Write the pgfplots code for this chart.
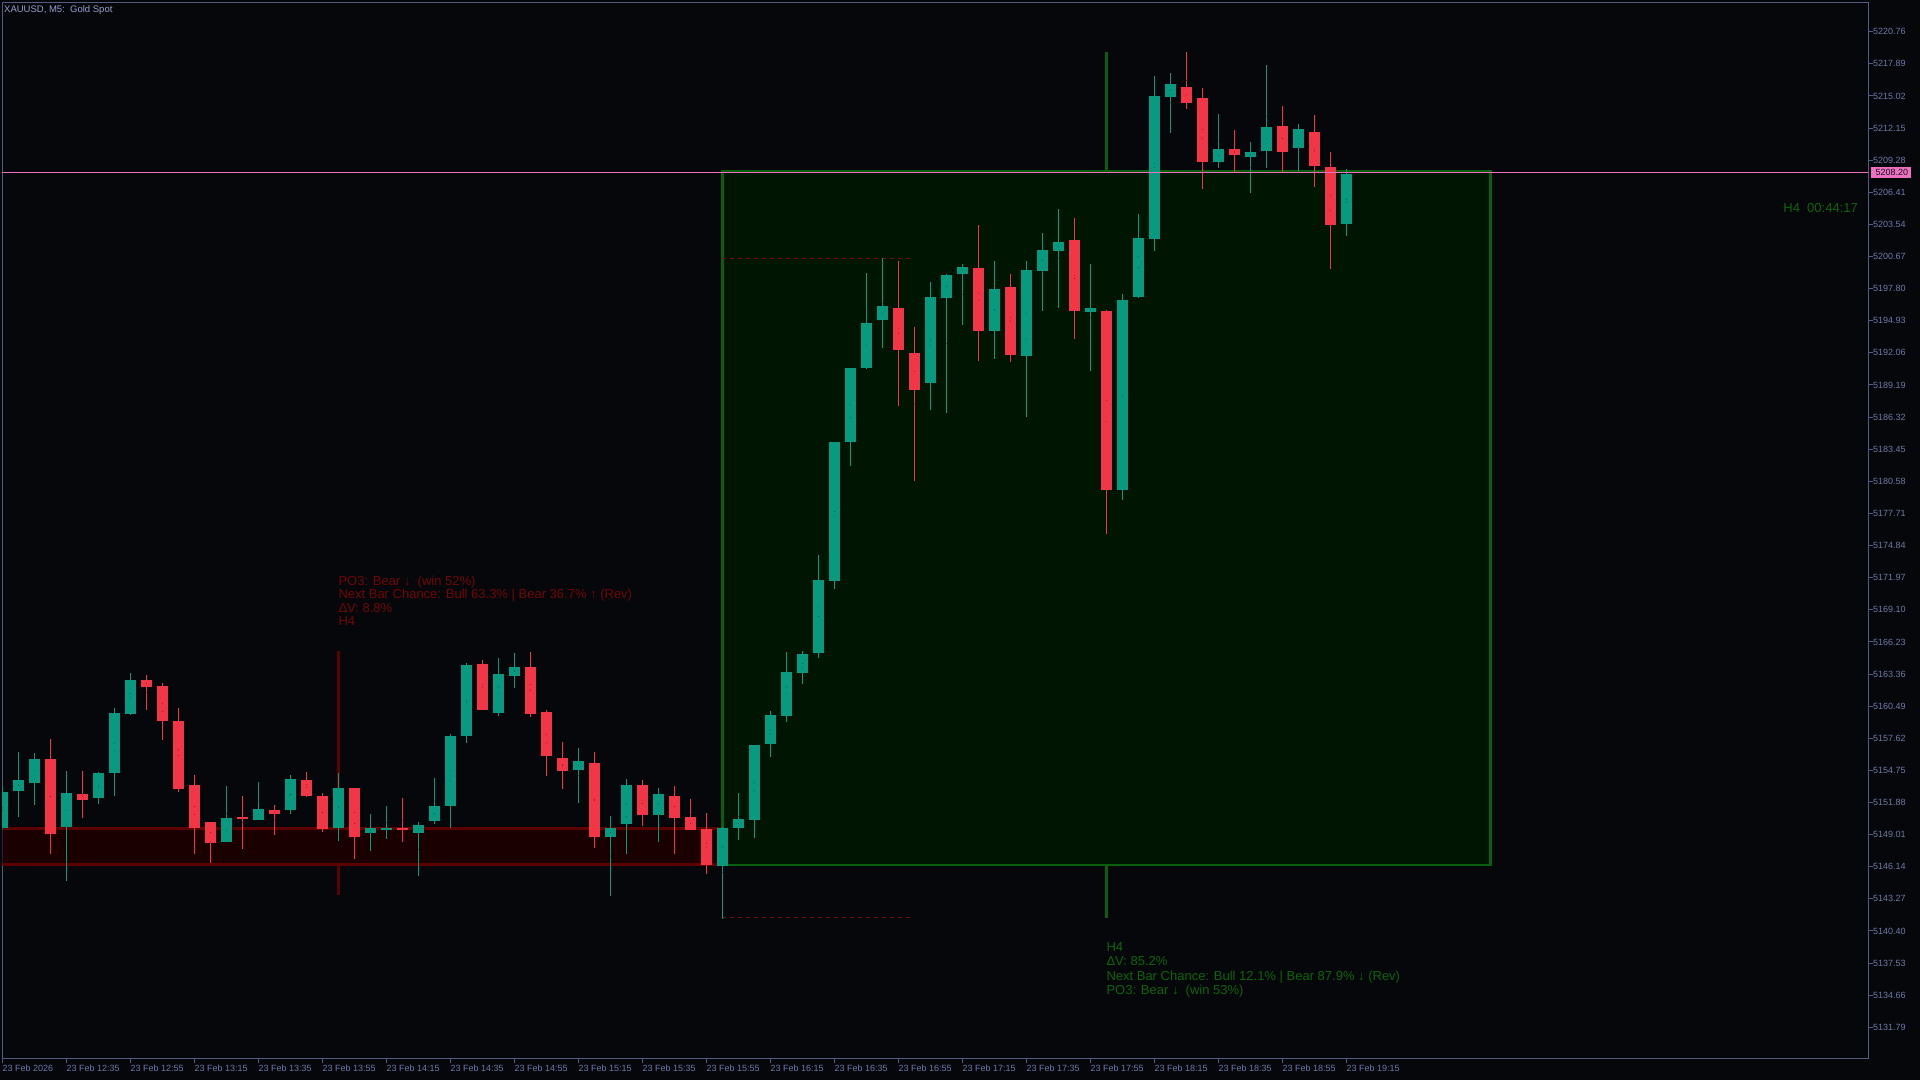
\documentclass[border=0pt]{standalone}
\usepackage{pgfplots}
\pgfplotsset{compat=1.18}
\usepackage{pgfplotstable}
\usepackage{fontspec}
\setmainfont{Liberation Sans}

\definecolor{bgc}{RGB}{6,7,11}
\definecolor{framec}{RGB}{80,92,130}
\definecolor{tickc}{RGB}{110,122,168}
\definecolor{titlec}{RGB}{150,160,205}
\definecolor{bull}{RGB}{8,153,129}
\definecolor{bear}{RGB}{242,54,69}
\definecolor{gboxfill}{RGB}{0,22,3}
\definecolor{gboxdraw}{RGB}{10,95,10}
\definecolor{rboxfill}{RGB}{26,0,0}
\definecolor{rboxdraw}{RGB}{92,0,0}
\definecolor{redtxt}{RGB}{112,6,6}
\definecolor{greentxt}{RGB}{12,100,12}
\definecolor{pinkc}{RGB}{238,112,190}
\definecolor{dashc}{RGB}{110,16,16}

\pgfplotstableread{
i o h l c
0 5149.73 5153.30 5149.43 5152.91
1 5152.85 5156.49 5150.62 5153.89
2 5153.74 5156.31 5151.70 5155.95
4 5149.73 5154.88 5145.08 5152.74
6 5152.32 5154.70 5151.87 5154.53
7 5154.56 5160.33 5152.50 5159.89
8 5159.83 5163.46 5159.74 5162.83
14 5148.47 5153.36 5148.47 5150.59
16 5150.35 5153.71 5150.26 5151.30
18 5151.24 5154.44 5150.97 5153.99
21 5149.55 5154.61 5148.56 5153.18
23 5149.19 5151.03 5147.67 5149.61
24 5149.52 5151.67 5148.65 5149.70
26 5149.28 5150.23 5145.44 5150.06
27 5150.35 5154.08 5150.00 5151.76
28 5151.70 5158.10 5149.64 5158.01
29 5157.86 5164.53 5157.41 5164.27
31 5160.00 5164.89 5159.65 5163.46
32 5163.31 5165.42 5162.33 5164.09
36 5154.91 5156.76 5151.79 5155.68
38 5148.95 5150.78 5143.65 5149.80
39 5149.93 5154.09 5147.41 5153.45
41 5150.82 5153.20 5148.38 5152.76
45 5146.24 5149.80 5141.55 5149.68
46 5149.64 5152.76 5148.59 5150.41
47 5150.37 5157.13 5148.83 5157.05
48 5157.09 5160.16 5155.99 5159.72
49 5159.68 5165.42 5159.10 5163.64
50 5163.60 5165.46 5162.51 5165.35
51 5165.30 5174.00 5164.85 5171.77
52 5171.73 5184.12 5171.09 5184.12
53 5184.16 5190.79 5182.09 5190.79
54 5190.75 5199.13 5190.59 5194.76
55 5194.97 5200.54 5192.53 5196.26
58 5189.31 5198.49 5187.07 5197.06
59 5197.09 5199.20 5186.72 5199.11
60 5199.14 5200.01 5194.59 5199.74
62 5194.13 5200.45 5191.63 5197.86
64 5191.90 5200.37 5186.35 5199.56
65 5199.51 5202.86 5195.84 5201.34
66 5201.28 5205.01 5196.19 5202.07
68 5195.84 5200.01 5190.48 5196.25
70 5179.84 5197.42 5179.03 5196.87
71 5197.09 5204.39 5196.91 5202.42
72 5202.36 5216.90 5201.28 5215.11
73 5214.96 5217.17 5211.84 5216.09
76 5209.16 5213.59 5208.70 5210.37
78 5209.69 5210.91 5206.38 5210.11
79 5210.14 5217.88 5208.70 5212.25
81 5210.40 5212.61 5208.35 5212.08
84 5203.70 5208.58 5202.54 5208.20
}\bullt

\pgfplotstableread{
i o h l c
3 5155.77 5157.65 5147.32 5149.11
5 5152.74 5154.79 5150.62 5152.23
9 5162.92 5163.37 5160.27 5162.24
10 5162.30 5162.65 5157.59 5159.20
11 5159.26 5160.33 5152.85 5153.21
12 5153.45 5154.44 5147.32 5149.64
13 5150.32 5150.32 5146.59 5148.38
15 5150.68 5152.65 5147.85 5150.44
17 5151.30 5151.76 5149.11 5150.97
19 5153.89 5154.61 5152.41 5152.50
20 5152.56 5152.91 5149.46 5149.64
22 5153.27 5153.27 5146.96 5148.92
25 5149.70 5152.29 5148.38 5149.52
30 5164.36 5164.53 5160.18 5160.18
33 5164.00 5165.25 5159.47 5159.83
34 5159.89 5160.24 5154.38 5155.98
35 5156.04 5157.29 5153.12 5154.91
37 5155.58 5156.47 5147.86 5148.95
40 5153.45 5153.97 5149.84 5150.82
42 5152.64 5153.36 5147.34 5150.65
43 5150.69 5152.31 5149.48 5149.56
44 5149.52 5151.05 5145.56 5146.37
56 5196.25 5200.37 5187.44 5192.44
57 5192.15 5194.47 5180.64 5188.77
61 5199.74 5203.67 5191.45 5194.13
63 5197.95 5199.20 5191.37 5191.81
67 5202.16 5204.21 5193.33 5195.84
69 5195.98 5195.98 5175.91 5179.93
74 5216.00 5218.96 5213.80 5214.52
75 5214.84 5215.73 5206.66 5209.16
77 5210.29 5212.16 5208.32 5209.69
80 5212.34 5214.13 5208.26 5210.05
82 5211.81 5213.50 5207.01 5208.79
83 5208.85 5210.02 5199.59 5203.70
}\beart

\begin{document}
\begin{tikzpicture}
\useasboundingbox (0pt,0pt) rectangle (1920pt,1080pt);
\fill[bgc] (0pt,0pt) rectangle (1920pt,1080pt);
\begin{axis}[
  at={(2.3pt,21.7pt)}, anchor=south west,
  scale only axis, width=1865.7pt, height=1055.55pt,
  xmin=0, xmax=116.6, ymin=5129.02, ymax=5223.36,
  axis line style={draw=framec, line width=1pt},
  tick style={draw=framec, line width=1pt},
  tick align=outside, major tick length=5pt,
  xtick pos=left, ytick pos=right,
  xtick={0,4,...,84},
  xticklabels={23 Feb 2026, 23 Feb 12:35, 23 Feb 12:55, 23 Feb 13:15, 23 Feb 13:35, 23 Feb 13:55, 23 Feb 14:15, 23 Feb 14:35, 23 Feb 14:55, 23 Feb 15:15, 23 Feb 15:35, 23 Feb 15:55, 23 Feb 16:15, 23 Feb 16:35, 23 Feb 16:55, 23 Feb 17:15, 23 Feb 17:35, 23 Feb 17:55, 23 Feb 18:15, 23 Feb 18:35, 23 Feb 18:55, 23 Feb 19:15},
  ytick={5131.79,5134.66,5137.53,5140.40,5143.27,5146.14,5149.01,5151.88,5154.75,5157.62,5160.49,5163.36,5166.23,5169.10,5171.97,5174.84,5177.71,5180.58,5183.45,5186.32,5189.19,5192.06,5194.93,5197.80,5200.67,5203.54,5206.41,5209.28,5212.15,5215.02,5217.89,5220.76},
  yticklabels={5131.79,5134.66,5137.53,5140.40,5143.27,5146.14,5149.01,5151.88,5154.75,5157.62,5160.49,5163.36,5166.23,5169.10,5171.97,5174.84,5177.71,5180.58,5183.45,5186.32,5189.19,5192.06,5194.93,5197.80,5200.67,5203.54,5206.41,5209.28,5212.15,5215.02,5217.89,5220.76},
  xticklabel style={anchor=north west, inner sep=0pt, yshift=-1pt, font=\fontsize{9}{9}\selectfont, text=tickc},
  yticklabel style={anchor=west, inner sep=0pt, font=\fontsize{9}{9}\selectfont, text=tickc},
  candle/.style={only marks, mark=*, mark size=0.01pt, mark options={draw=none, fill=none},
    error bars/y dir=both, error bars/y explicit, error bars/error mark=none},
]
% red zone box
\addplot[fill=rboxfill, draw=rboxdraw, line width=2.6pt] coordinates {(-2,5149.58) (45,5149.58) (45,5146.34) (-2,5146.34)} --cycle;
% green zone box
\addplot[fill=gboxfill, draw=gboxdraw, line width=2.6pt] coordinates {(45,5208.30) (93,5208.30) (93,5146.28) (45,5146.28)} --cycle;
% marker lines
\addplot[rboxdraw, line width=3pt] coordinates {(21,5165.46) (21,5149.58)};
\addplot[rboxdraw, line width=3pt] coordinates {(21,5146.34) (21,5143.62)};
\addplot[gboxdraw, line width=3pt] coordinates {(69,5218.96) (69,5208.30)};
\addplot[gboxdraw, line width=3pt] coordinates {(69,5146.28) (69,5141.56)};
% dashed high/low lines
\addplot[dashc, line width=1pt, dash pattern=on 4pt off 4pt] coordinates {(45,5200.51) (56.9,5200.51)};
\addplot[dashc, line width=1pt, dash pattern=on 4pt off 4pt] coordinates {(45,5141.56) (56.9,5141.56)};
% wicks
\addplot[candle, error bars/error bar style={line width=1.3pt, draw=bull}]
  table[x=i, y expr={(\thisrow{h}+\thisrow{l})/2}, y error expr={(\thisrow{h}-\thisrow{l})/2}] {\bullt};
\addplot[candle, error bars/error bar style={line width=1.3pt, draw=bear}]
  table[x=i, y expr={(\thisrow{h}+\thisrow{l})/2}, y error expr={(\thisrow{h}-\thisrow{l})/2}] {\beart};
% bodies
\addplot[candle, error bars/error bar style={line width=10.7pt, draw=bull}]
  table[x=i, y expr={(\thisrow{o}+\thisrow{c})/2}, y error expr={max(abs(\thisrow{c}-\thisrow{o})/2,0.06)}] {\bullt};
\addplot[candle, error bars/error bar style={line width=10.7pt, draw=bear}]
  table[x=i, y expr={(\thisrow{o}+\thisrow{c})/2}, y error expr={max(abs(\thisrow{c}-\thisrow{o})/2,0.06)}] {\beart};
% current price line
\addplot[pinkc, line width=1.5pt] coordinates {(-2,5208.20) (120,5208.20)};
\end{axis}
\begin{scope}[x=1pt, y=-1pt, yshift=1080pt]
\node[anchor=base west, inner sep=0pt, text=titlec, font=\fontsize{9.5}{9.5}\selectfont] at (4,12.7) {XAUUSD, M5:\ \ Gold Spot};
\node[anchor=west, inner sep=0pt, fill=pinkc, text={rgb,255:red,20;green,20;blue,40}, font=\fontsize{9}{9}\selectfont, minimum width=40.5pt, minimum height=11pt] at (1870.7,172.7) {\,5208.20};
\begin{scope}[every node/.style={anchor=base west, inner sep=0pt, font=\fontsize{13}{13}\selectfont}]
\node[text=redtxt] at (338.3,585.5) {PO3: Bear ↓\ \ (win 52\%)};
\node[text=redtxt] at (338.3,598.9) {Next Bar Chance: Bull 63.3\% | Bear 36.7\% ↑ (Rev)};
\node[text=redtxt] at (338.3,612.3) {ΔV: 8.8\%};
\node[text=redtxt] at (338.3,625.7) {H4};
\node[text=greentxt] at (1106.3,951.5) {H4};
\node[text=greentxt] at (1106.3,965.8) {ΔV: 85.2\%};
\node[text=greentxt] at (1106.3,980.1) {Next Bar Chance: Bull 12.1\% | Bear 87.9\% ↓ (Rev)};
\node[text=greentxt] at (1106.3,994.4) {PO3: Bear ↓\ \ (win 53\%)};
\end{scope}
\node[anchor=base east, inner sep=0pt, text=greentxt, font=\fontsize{13}{13}\selectfont] at (1858,213) {H4\ \ 00:44:17};
\end{scope}
\end{tikzpicture}
\end{document}
